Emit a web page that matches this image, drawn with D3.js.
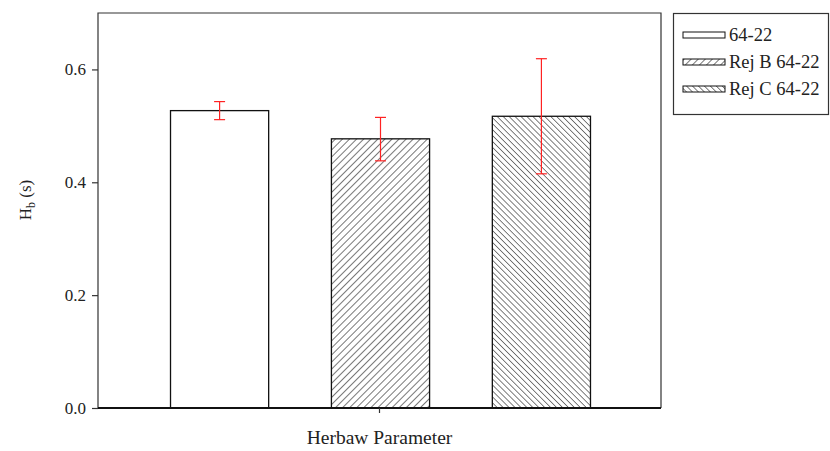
<!DOCTYPE html>
<html>
<head>
<meta charset="utf-8">
<script src="https://cdn.jsdelivr.net/npm/d3@7"></script>
<style>
body { margin: 0; background: #fff; }
svg text { font-family: "Liberation Serif", "DejaVu Serif", "Times New Roman", serif; fill: #222; }
</style>
</head>
<body>
<svg id="chart"></svg>
<script>
// данные
let categories = ["Herbaw Parameter"];
let series = ["64-22", "Rej B 64-22", "Rej C 64-22"];
let values = [0.527, 0.477, 0.517];
let errLow = [0.511, 0.438, 0.415];
let errHigh = [0.543, 0.515, 0.619];
let yTicks = [0.0, 0.2, 0.4, 0.6];
let fills = ["white", "url(#hatchB)", "url(#hatchC)"];

let width = 830, height = 451;
let marginL = 98, marginT = 13, plotR = 661, plotB = 408;
let serif = "'Liberation Serif', 'DejaVu Serif', serif";

let svg = d3.select("#chart").attr("width", width).attr("height", height);

// штриховки
let defs = svg.append("defs");
let pB = defs.append("pattern").attr("id", "hatchB")
    .attr("patternUnits", "userSpaceOnUse")
    .attr("width", 5).attr("height", 5)
    .attr("patternTransform", "rotate(45)");
pB.append("rect").attr("width", 5).attr("height", 5).attr("fill", "white");
pB.append("line").attr("x1", 0).attr("y1", 0).attr("x2", 0).attr("y2", 5)
    .attr("stroke", "#555").attr("stroke-width", 1.6);
let pC = defs.append("pattern").attr("id", "hatchC")
    .attr("patternUnits", "userSpaceOnUse")
    .attr("width", 4.2).attr("height", 4.2)
    .attr("patternTransform", "rotate(-45)");
pC.append("rect").attr("width", 4.2).attr("height", 4.2).attr("fill", "white");
pC.append("line").attr("x1", 0).attr("y1", 0).attr("x2", 0).attr("y2", 4.2)
    .attr("stroke", "#555").attr("stroke-width", 1.5);

// шкалы
let scaleX = d3.scaleBand().domain(categories).range([marginL, plotR]).padding(0.1455);
let scaleS = d3.scaleBand().domain(series).range([0, scaleX.bandwidth()]).paddingInner(0.39);
let scaleY = d3.scaleLinear().domain([0, 0.7]).range([plotB, marginT]);

// рамка
svg.append("path")
    .attr("d", `M${marginL},${plotB}V${marginT}H${plotR}V${plotB}`)
    .attr("fill", "none").attr("stroke", "#333").attr("stroke-width", 1.2);

// столбцы
let bars = svg.append("g");
series.forEach(function(s, i) {
    let x = scaleX(categories[0]) + scaleS(s);
    bars.append("rect")
        .attr("x", x + 1)
        .attr("y", scaleY(values[i]))
        .attr("width", scaleS.bandwidth())
        .attr("height", scaleY(0) - scaleY(values[i]))
        .attr("fill", fills[i])
        .attr("stroke", "#111").attr("stroke-width", 1.3);
});

// планки погрешностей
series.forEach(function(s, i) {
    let cx = scaleX(categories[0]) + scaleS(s) + scaleS.bandwidth() / 2 + 1;
    let g = svg.append("g").attr("stroke", "#f22").attr("stroke-width", 1.2);
    g.append("line").attr("x1", cx).attr("x2", cx)
        .attr("y1", scaleY(errLow[i])).attr("y2", scaleY(errHigh[i]));
    g.append("line").attr("x1", cx - 5.5).attr("x2", cx + 5.5)
        .attr("y1", scaleY(errLow[i])).attr("y2", scaleY(errLow[i]));
    g.append("line").attr("x1", cx - 5.5).attr("x2", cx + 5.5)
        .attr("y1", scaleY(errHigh[i])).attr("y2", scaleY(errHigh[i]));
});

// ось OY
let axisY = d3.axisLeft(scaleY).tickValues(yTicks).tickFormat(d3.format(".1f")).tickSize(6).tickPadding(6);
let gy = svg.append("g").attr("transform", `translate(${marginL},0)`).call(axisY)
    .attr("font-family", serif);
gy.select(".domain").remove();
gy.selectAll("line").attr("stroke", "#333").attr("stroke-width", 1.2);
gy.selectAll("text").style("font-size", "17px").style("font-family", serif).attr("fill", "#222");

// ось OX
let axisX = d3.axisBottom(scaleX).tickSize(5).tickFormat("");
let gx = svg.append("g").attr("transform", `translate(0,${plotB})`).call(axisX);
gx.select(".domain").attr("d", `M${marginL},0H${plotR}`).attr("stroke", "#111").attr("stroke-width", 2);
gx.selectAll("line").attr("stroke", "#333").attr("stroke-width", 1.2);

// подписи осей
svg.append("text")
    .attr("x", scaleX(categories[0]) + scaleX.bandwidth() / 2)
    .attr("y", 444)
    .attr("text-anchor", "middle")
    .style("font-family", serif)
    .style("font-size", "19.5px")
    .text(categories[0]);

let yl = svg.append("text")
    .attr("transform", "translate(31,200) rotate(-90)")
    .attr("text-anchor", "middle")
    .style("font-family", serif)
    .style("font-size", "17px");
yl.append("tspan").text("H");
yl.append("tspan").attr("dy", 4).style("font-size", "12px").text("b");
yl.append("tspan").attr("dy", -4).text(" (s)");

// легенда
let leg = svg.append("g");
leg.append("rect").attr("x", 673.5).attr("y", 13.5).attr("width", 155).attr("height", 101)
    .attr("fill", "white").attr("stroke", "#333").attr("stroke-width", 1.2);
series.forEach(function(s, i) {
    let y = 35 + i * 27;
    leg.append("rect").attr("x", 683).attr("y", y - 3).attr("width", 42).attr("height", 6)
        .attr("fill", fills[i]).attr("stroke", "#111").attr("stroke-width", 1);
    leg.append("text").attr("x", 729).attr("y", y + 6)
        .style("font-family", serif)
        .style("font-size", "18.5px").text(s);
});
</script>
</body>
</html>
